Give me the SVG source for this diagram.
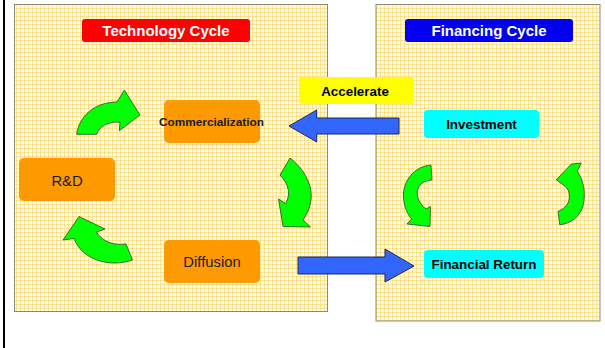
<svg xmlns="http://www.w3.org/2000/svg" width="605" height="348" viewBox="0 0 605 348">
<style>
  .panel{fill:url(#gingham);stroke:#8a8a7a;stroke-width:1}
  .title{font-family:"Liberation Sans",Arial,sans-serif;font-weight:bold;font-size:15px;fill:#ffffff;text-anchor:middle}
  .lbl{font-family:"Liberation Sans",Arial,sans-serif;font-weight:bold;font-size:13.4px;fill:#000;text-anchor:middle}
  .node{fill:#ff9900}
  .ntxt{font-family:"Liberation Sans",Arial,sans-serif;font-size:14.8px;fill:#1a1a1a;text-anchor:middle}
  .green{fill:#00ff00;stroke:#2a4a2a;stroke-width:0.8;stroke-linejoin:miter}
  .blue{fill:#3366ff;stroke:#1a2a5a;stroke-width:1}
</style>
<defs>
  <pattern id="gingham" x="0" y="0" width="4" height="4" patternUnits="userSpaceOnUse">
    <rect width="4" height="4" fill="#fffae0"/>
    <rect x="0" y="0" width="1" height="4" fill="#fde69a"/>
    <rect x="0" y="0" width="4" height="1" fill="#fde69a"/>
    <rect x="0" y="0" width="1" height="1" fill="#f9d766"/>
    <rect x="2" y="2" width="1" height="1" fill="#ffffff"/>
  </pattern>
</defs>
<rect x="0" y="0" width="605" height="348" fill="#ffffff"/>
<rect x="3" y="0" width="2" height="348" fill="#000000"/>

<g id="panel-technology">
  <rect class="panel" x="14.5" y="4.5" width="313" height="307"/>
</g>
<g id="panel-financing">
  <rect class="panel" x="376" y="4.5" width="224" height="316.5"/>
</g>

<g id="title-technology">
  <rect x="82" y="19" width="168" height="23" rx="3" fill="#ff0000"/>
  <text class="title" x="166" y="36">Technology Cycle</text>
</g>
<g id="title-financing">
  <rect x="405" y="19" width="168" height="23" rx="3" fill="#0000ee"/>
  <text class="title" x="489" y="36">Financing Cycle</text>
</g>

<g id="node-accelerate">
  <rect x="299" y="77" width="115" height="27" rx="3" fill="#ffff00"/>
  <text class="lbl" x="355" y="96">Accelerate</text>
</g>
<g id="node-investment">
  <rect x="424" y="110" width="115" height="28" rx="4" fill="#00ffff"/>
  <text class="lbl" x="481.5" y="129.3">Investment</text>
</g>
<g id="node-financial-return">
  <rect x="424" y="250" width="120" height="28" rx="4" fill="#00ffff"/>
  <text class="lbl" x="484" y="269">Financial Return</text>
</g>
<g id="node-commercialization">
  <rect class="node" x="164" y="100" width="96" height="43" rx="5"/>
  <text x="211.5" y="126" font-family="Liberation Sans, Arial, sans-serif" font-weight="bold" font-size="11.8" fill="#1a1a1a" text-anchor="middle">Commercialization</text>
</g>
<g id="node-rd">
  <rect class="node" x="19" y="158" width="96" height="43" rx="5"/>
  <text class="ntxt" x="67" y="185.5">R&amp;D</text>
</g>
<g id="node-diffusion">
  <rect class="node" x="164" y="240" width="96" height="43" rx="5"/>
  <text class="ntxt" x="212" y="266.7">Diffusion</text>
</g>

<g id="connectors">
  <!-- R&D -> Commercialization -->
  <path class="green" d="M76.7,134.3 C79,116 95,102 117,102 L124.3,90 L140,115 L119.3,130.7 L120,122.3 C108,121 99,127 96.7,134.3 Z"/>
  <!-- Commercialization -> Diffusion -->
  <path class="green" d="M290,158 C303,168 313,184 311,200 C310,208 307,214 303,220 L310.5,227 L283,226.5 L278.5,199 L285.5,203.5 C291,195 289,184 280,175 Z"/>
  <!-- Diffusion -> R&D -->
  <path class="green" d="M79,216.5 L105,229 L96.5,232 C101,240 112,246 126,244 L132.5,260 C110,268 82,260 74,238.5 L63,240 Z"/>
  <!-- Investment -> Financial Return -->
  <path class="green" d="M431,165 C417,166 405,177 403.5,193 C403,204 406,212 411.5,219 L407,224 L430,226.5 L430.5,206.5 L426,209 C418,203 415,193 419,186.5 C422,182 427,180.5 432,180 Z"/>
  <!-- Financial Return -> Investment -->
  <path class="green" d="M559.7,224.7 C570,224 580,217 583,206 C586,194 584,181 577.3,171.3 L581.3,163 L571.3,164 L556.3,179.7 L563,184.7 C569,188 571,196 568,203 C566,207 562,210 558,211.3 Z"/>
  <!-- Accelerate arrow (left) -->
  <path class="blue" d="M399,118 L316.7,118 L316.7,110 L289,126 L316.7,142 L316.7,134 L399,134 Z"/>
  <!-- Diffusion -> Financial Return arrow (right) -->
  <path class="blue" d="M298,257 L385,257 L385,249 L414,266 L385,282 L385,274 L298,274 Z"/>
</g>
</svg>
